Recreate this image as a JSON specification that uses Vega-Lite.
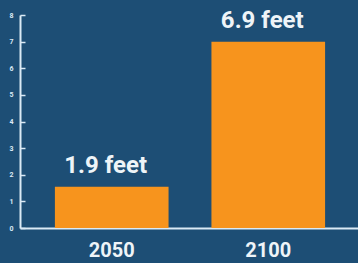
{
  "$schema": "https://vega.github.io/schema/vega-lite/v6.json",
  "autosize": {"type": "none"},
  "padding": {"left": 20, "top": 15, "right": 0, "bottom": 35},
  "width": 340,
  "height": 213,
  "background": "#1d4e75",
  "config": {"view": {"stroke": null}},
  "data": {"values": [
    {"year": "2050", "value": 1.55, "label": "1.9 feet"},
    {"year": "2100", "value": 7.0, "label": "6.9 feet"}
  ]},
  "encoding": {
    "x": {"field": "year", "type": "nominal",
      "scale": {"paddingInner": 0.274, "paddingOuter": 0.223},
      "axis": {"title": null, "labelAngle": 0, "domainColor": "#dbeaf5", "domainWidth": 2, "ticks": false,
        "labelColor": "#eef4f8", "labelFont": "Roboto", "labelFontWeight": "bold", "labelFontSize": 20, "labelPadding": 12}},
    "y": {"field": "value", "type": "quantitative",
      "scale": {"domain": [0, 8]},
      "axis": {"title": null, "values": [0,1,2,3,4,5,6,7,8], "grid": false, "domainColor": "#dbeaf5", "domainWidth": 2,
        "tickColor": "#dbeaf5", "tickSize": -5, "tickWidth": 1.5, "labelPadding": 12,
        "labelColor": "#dbeaf5", "labelFont": "Roboto", "labelFontWeight": "bold", "labelFontSize": 7}}
  },
  "layer": [
    {"mark": {"type": "bar", "color": "#f7941d"}},
    {"mark": {"type": "text", "dy": -14, "dx": -6, "color": "#eef4f8", "font": "Roboto", "fontWeight": "bold", "fontSize": 24, "baseline": "alphabetic"},
     "encoding": {"text": {"field": "label"}}}
  ]
}
